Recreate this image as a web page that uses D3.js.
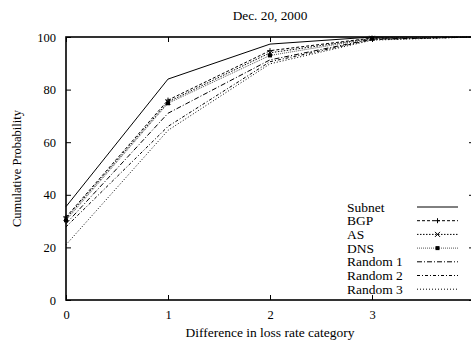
<!DOCTYPE html>
<html>
<head>
<meta charset="utf-8">
<script src="https://cdn.jsdelivr.net/npm/d3@7"></script>
<style>
  html, body { margin: 0; padding: 0; background: #fff; overflow: hidden; }
  svg { display: block; }
  text { font-family: "Liberation Serif", "Times New Roman", serif; fill: #000; }
</style>
</head>
<body>
<svg id="chart" width="471" height="341"></svg>
<script>
// Cumulative probability of difference in loss rate category
const categories = [0, 1, 2, 3, 4];
const xTicks = [0, 1, 2, 3, 4];
const xTickLabels = ["0", "1", "2", "3", ""];
const yTicks = [0, 20, 40, 60, 80, 100];

const seriesNames = ["Subnet", "BGP", "AS", "DNS", "Random 1", "Random 2", "Random 3"];
const subnet  = [35.5, 84.0, 97.3, 100, 100];
const bgp     = [31.5, 76.0, 94.8, 99.6, 100];
const as      = [31.0, 75.3, 94.0, 99.5, 100];
const dns     = [30.3, 74.8, 93.0, 99.4, 100];
const random1 = [29.0, 71.0, 91.3, 99.2, 100];
const random2 = [27.8, 66.0, 90.6, 99.0, 100];
const random3 = [21.0, 64.5, 89.8, 98.8, 100];

const seriesValues = [subnet, bgp, as, dns, random1, random2, random3];
const dashes  = [null, "3,2", "1.5,1.5", "1,1", "5,2,1,2", "3,2,1,2", "1,2"];
const strokes = ["#000", "#000", "#000", "#555", "#000", "#000", "#000"];
const markers = [null, "plus", "cross", "square", null, null, null];

const FONT = "'Liberation Serif', 'Times New Roman', serif";
const svg = d3.select("#chart");
const margin = { left: 66, right: -3, top: 37, bottom: 41 };
const W = 471, H = 341;

const x = d3.scaleLinear().domain([0, 4]).range([margin.left, W - margin.right]);
const y = d3.scaleLinear().domain([0, 100]).range([H - margin.bottom, margin.top]);

// Frame
svg.append("rect")
  .attr("x", x(0)).attr("y", y(100))
  .attr("width", x(4) - x(0)).attr("height", y(0) - y(100))
  .attr("fill", "none").attr("stroke", "#000").attr("stroke-width", 1.6);

// Axes with inward ticks
const axB = d3.axisBottom(x).tickValues(xTicks).tickSize(-5).tickPadding(10)
  .tickFormat((d, i) => xTickLabels[i]);
const axT = d3.axisTop(x).tickValues(xTicks).tickSize(-5).tickFormat("");
const axL = d3.axisLeft(y).tickValues(yTicks).tickSize(-5).tickPadding(10).tickFormat(d3.format("d"));
const axR = d3.axisRight(y).tickValues(yTicks).tickSize(-5).tickFormat("");

function styleAxis(g) {
  g.attr("font-family", FONT).attr("font-size", 12);
  g.select(".domain").remove();
  g.selectAll(".tick line").attr("stroke", "#000").attr("stroke-width", 1);
  g.selectAll(".tick text").attr("font-family", FONT).style("font-size", "12.5px");
}
svg.append("g").attr("transform", `translate(0,${y(0)})`).call(axB).call(styleAxis);
svg.append("g").attr("transform", `translate(0,${y(100)})`).call(axT).call(styleAxis);
svg.append("g").attr("transform", `translate(${x(0)},0)`).call(axL).call(styleAxis);
svg.append("g").attr("transform", `translate(${x(4)},0)`).call(axR).call(styleAxis);

// Title and axis labels
svg.append("text").attr("x", x(2)).attr("y", 20).attr("text-anchor", "middle")
  .attr("font-family", FONT).style("font-size", "13.3px").text("Dec. 20, 2000");
svg.append("text").attr("x", x(2)).attr("y", 337).attr("text-anchor", "middle")
  .attr("font-family", FONT).style("font-size", "13.5px").text("Difference in loss rate category");
svg.append("text")
  .attr("transform", `translate(21,${(y(0) + y(100)) / 2}) rotate(-90)`)
  .attr("text-anchor", "middle").attr("font-family", FONT).style("font-size", "12.5px")
  .text("Cumulative Probability");

// Marker drawing
function drawMarker(g, type, cx, cy, color) {
  const s = 2.5;
  if (type === "plus") {
    g.append("path").attr("d", `M${cx - s},${cy}H${cx + s}M${cx},${cy - s}V${cy + s}`)
      .attr("stroke", color).attr("stroke-width", 1).attr("fill", "none");
  } else if (type === "cross") {
    g.append("path").attr("d", `M${cx - s},${cy - s}L${cx + s},${cy + s}M${cx - s},${cy + s}L${cx + s},${cy - s}`)
      .attr("stroke", "#000").attr("stroke-width", 1).attr("fill", "none");
  } else if (type === "square") {
    g.append("rect").attr("x", cx - 2).attr("y", cy - 2).attr("width", 4).attr("height", 4).attr("fill", "#000");
  }
}

const line = d3.line().x((d, i) => x(categories[i])).y(d => y(d));

const plot = svg.append("g");
seriesValues.forEach((vals, k) => {
  plot.append("path").datum(vals)
    .attr("d", line)
    .attr("fill", "none")
    .attr("stroke", strokes[k])
    .attr("stroke-width", 1)
    .attr("stroke-dasharray", dashes[k]);
  if (markers[k]) {
    vals.forEach((v, i) => drawMarker(plot, markers[k], x(categories[i]), y(v), strokes[k]));
  }
});

// Legend
const legend = svg.append("g");
const legY0 = 207, legStep = 13.7;
seriesNames.forEach((name, k) => {
  const ly = legY0 + k * legStep;
  legend.append("text").attr("x", 347).attr("y", ly + 4.5)
    .attr("font-family", FONT).style("font-size", "13.5px").text(name);
  legend.append("line")
    .attr("x1", 417).attr("x2", 458).attr("y1", ly).attr("y2", ly)
    .attr("stroke", strokes[k]).attr("stroke-width", 1)
    .attr("stroke-dasharray", dashes[k]);
  if (markers[k]) drawMarker(legend, markers[k], 437.5, ly, strokes[k]);
});
</script>
</body>
</html>
